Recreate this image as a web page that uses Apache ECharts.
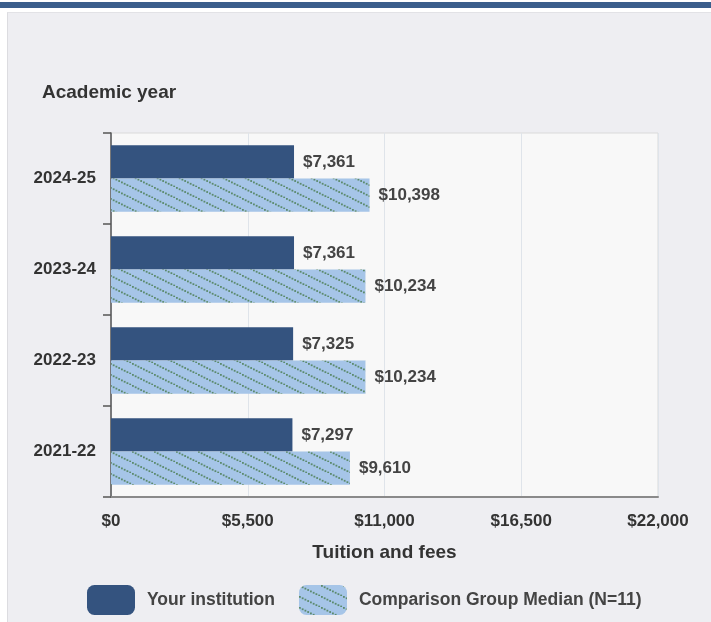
<!DOCTYPE html>
<html>
<head>
<meta charset="utf-8">
<script src="https://cdn.jsdelivr.net/npm/echarts@6/dist/echarts.min.js"></script>
<style>
  html, body { margin: 0; padding: 0; background: #ffffff; }
  #wrap { position: relative; width: 711px; height: 622px; overflow: hidden; }
  #topbar { position: absolute; left: 0; top: 2px; width: 711px; height: 6px; background: #3b5e8c; }
  #panel { position: absolute; left: 7px; top: 12px; width: 710px; height: 620px; background: #eeeef2; border-left: 1px solid #dcdce0; border-top: 1px solid #e2e2e6; }
  #chart { position: absolute; left: 0; top: 0; width: 711px; height: 622px; }
</style>
</head>
<body>
<div id="wrap">
  <div id="topbar"></div>
  <div id="panel"></div>
  <div id="chart"></div>
</div>
<script>
const categories = ['2024-25', '2023-24', '2022-23', '2021-22'];
const institutionValues = [7361, 7361, 7325, 7297];
const comparisonValues = [10398, 10234, 10234, 9610];
const xTicks = [0, 5500, 11000, 16500, 22000];
const seriesNames = ['Your institution', 'Comparison Group Median (N=11)'];

function makeHatch() {
  const w = 22, h = 11;
  const c = document.createElement('canvas');
  c.width = w; c.height = h;
  const g = c.getContext('2d');
  g.fillStyle = '#a6c5e8';
  g.fillRect(0, 0, w, h);
  g.fillStyle = '#5b8a6c';
  for (let x = 0; x < w; x += 2.75) {
    const y = x * h / w;
    g.fillRect(x, y, 1.8, 1.8);
  }
  return c;
}
const hatch = makeHatch();
const FONT = "'Liberation Sans', Arial, sans-serif";

const chart = echarts.init(document.getElementById('chart'), null, { renderer: 'canvas' });
chart.setOption({
  backgroundColor: 'transparent',
  animation: false,
  textStyle: { fontFamily: FONT },
  title: {
    text: 'Academic year',
    left: 37, top: 78,
    textStyle: { fontSize: 19, fontWeight: 'bold', color: '#333', fontFamily: FONT }
  },
  legend: {
    bottom: 2, left: 82,
    itemWidth: 48, itemHeight: 30, itemGap: 24,
    icon: 'roundRect',
    data: seriesNames,
    textStyle: { fontSize: 17.5, fontWeight: 'bold', color: '#444', fontFamily: FONT, padding: [0, 0, 0, 7] }
  },
  grid: {
    left: 111, right: 53, top: 133, bottom: 125,
    show: true, backgroundColor: '#f8f8f8', borderColor: '#dadada', borderWidth: 1
  },
  xAxis: {
    type: 'value', min: xTicks[0], max: xTicks[xTicks.length - 1], interval: xTicks[1] - xTicks[0],
    name: 'Tuition and fees', nameLocation: 'middle', nameGap: 46,
    nameTextStyle: { fontSize: 19, fontWeight: 'bold', color: '#333', fontFamily: FONT },
    axisLine: { show: true, lineStyle: { color: '#8a8a8a', width: 2 } },
    axisTick: { show: false },
    axisLabel: {
      margin: 16, fontSize: 17, fontWeight: 'bold', color: '#333', fontFamily: FONT,
      formatter: v => '$' + v.toLocaleString('en-US')
    },
    splitLine: { show: true, lineStyle: { color: '#dfe4ea', width: 1 } }
  },
  yAxis: {
    type: 'category', data: categories, inverse: true,
    axisLine: { show: true, lineStyle: { color: '#555', width: 1.5 } },
    axisTick: { show: true, length: 8, lineStyle: { color: '#555', width: 1.5 } },
    axisLabel: { margin: 15, fontSize: 17, fontWeight: 'bold', color: '#333', fontFamily: FONT },
    splitLine: { show: false }
  },
  series: [
    {
      name: seriesNames[0], type: 'bar', data: institutionValues,
      barGap: '0%', barCategoryGap: '27%',
      itemStyle: { color: '#34537f' },
      label: {
        show: true, position: 'right', distance: 9,
        fontSize: 17, fontWeight: 'bold', color: '#444', fontFamily: FONT,
        formatter: p => '$' + p.value.toLocaleString('en-US')
      }
    },
    {
      name: seriesNames[1], type: 'bar', data: comparisonValues,
      itemStyle: { color: { image: hatch, repeat: 'repeat' } },
      label: {
        show: true, position: 'right', distance: 9,
        fontSize: 17, fontWeight: 'bold', color: '#444', fontFamily: FONT,
        formatter: p => '$' + p.value.toLocaleString('en-US')
      }
    }
  ]
});
</script>
</body>
</html>
